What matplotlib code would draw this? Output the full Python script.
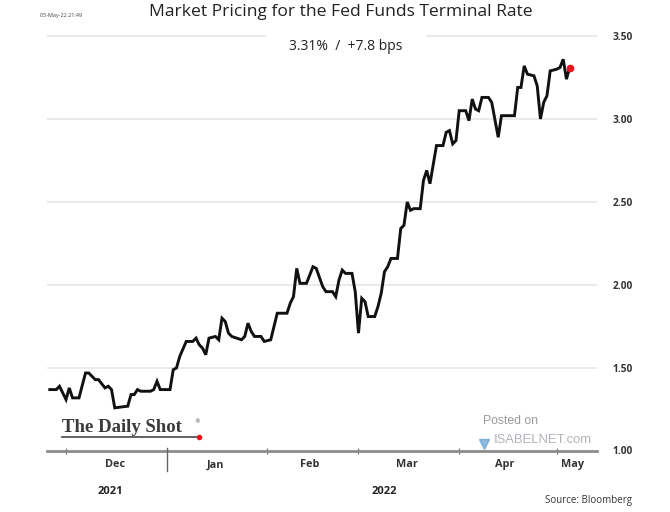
import matplotlib
matplotlib.use("Agg")
import matplotlib.pyplot as plt
import matplotlib.dates as mdates
import pandas as pd
from matplotlib.lines import Line2D

dates = ["2021-11-26","2021-11-28","2021-11-29","2021-12-01","2021-12-02","2021-12-03","2021-12-05",
         "2021-12-07","2021-12-08","2021-12-10","2021-12-11","2021-12-13","2021-12-14","2021-12-15",
         "2021-12-16","2021-12-20","2021-12-21","2021-12-22","2021-12-23","2021-12-24","2021-12-27",
         "2021-12-28","2021-12-29","2021-12-30","2022-01-02","2022-01-03","2022-01-04","2022-01-05",
         "2022-01-07","2022-01-09","2022-01-10","2022-01-11","2022-01-12","2022-01-13","2022-01-14",
         "2022-01-16","2022-01-17","2022-01-18","2022-01-19","2022-01-20","2022-01-21","2022-01-24",
         "2022-01-25","2022-01-26","2022-01-27","2022-01-28","2022-01-30","2022-01-31","2022-02-02",
         "2022-02-04","2022-02-07","2022-02-08","2022-02-09","2022-02-10","2022-02-11","2022-02-13",
         "2022-02-15","2022-02-16","2022-02-18","2022-02-19","2022-02-21","2022-02-22","2022-02-23",
         "2022-02-24","2022-02-25","2022-02-27","2022-02-28","2022-03-01","2022-03-02","2022-03-03",
         "2022-03-04","2022-03-06","2022-03-07","2022-03-08","2022-03-09","2022-03-10","2022-03-11",
         "2022-03-13","2022-03-14","2022-03-15","2022-03-16","2022-03-17","2022-03-18","2022-03-20",
         "2022-03-21","2022-03-22","2022-03-23","2022-03-25","2022-03-27","2022-03-28","2022-03-29",
         "2022-03-30","2022-03-31","2022-04-01","2022-04-03","2022-04-04","2022-04-05","2022-04-06",
         "2022-04-07","2022-04-08","2022-04-10","2022-04-11","2022-04-13","2022-04-14","2022-04-18",
         "2022-04-19","2022-04-20","2022-04-21","2022-04-22","2022-04-24","2022-04-25","2022-04-26",
         "2022-04-27","2022-04-28","2022-04-29","2022-05-01","2022-05-02","2022-05-03","2022-05-04",
         "2022-05-05"]
rates = [1.37, 1.37, 1.39, 1.31, 1.38, 1.32, 1.32,
         1.47, 1.47, 1.43, 1.43, 1.38, 1.39, 1.37,
         1.26, 1.27, 1.34, 1.34, 1.37, 1.36, 1.36,
         1.37, 1.42, 1.37, 1.37, 1.49, 1.50, 1.57,
         1.66, 1.66, 1.68, 1.64, 1.62, 1.58, 1.68,
         1.69, 1.67, 1.80, 1.78, 1.71, 1.69, 1.67,
         1.69, 1.77, 1.72, 1.69, 1.69, 1.66, 1.67,
         1.83, 1.83, 1.89, 1.93, 2.10, 2.01, 2.01,
         2.11, 2.10, 1.99, 1.96, 1.96, 1.93, 2.03,
         2.09, 2.07, 2.07, 1.96, 1.71, 1.92, 1.90,
         1.81, 1.81, 1.87, 1.95, 2.08, 2.11, 2.16,
         2.16, 2.34, 2.36, 2.50, 2.45, 2.46, 2.46,
         2.63, 2.69, 2.61, 2.84, 2.84, 2.92, 2.93,
         2.85, 2.87, 3.05, 3.05, 2.99, 3.12, 3.06,
         3.05, 3.13, 3.13, 3.10, 2.89, 3.02, 3.02,
         3.19, 3.19, 3.32, 3.27, 3.26, 3.20, 3.00,
         3.10, 3.14, 3.29, 3.30, 3.31, 3.36, 3.24,
         3.31]

month_starts = ["2021-12-01", "2022-02-01", "2022-03-01", "2022-04-01", "2022-05-01"]
year_break = "2022-01-01"
month_label_dates = ["2021-12-16", "2022-01-16", "2022-02-14", "2022-03-16", "2022-04-15", "2022-05-06"]
month_labels = ["Dec", "Jan", "Feb", "Mar", "Apr", "May"]
y_ticks = [1.50, 2.00, 2.50, 3.00, 3.50]
y_tick_labels = ["1.50", "2.00", "2.50", "3.00", "3.50"]

x = pd.to_datetime(dates)
W, H = 670, 512
fig = plt.figure(figsize=(W / 100, H / 100), dpi=100)
fig.patch.set_facecolor("white")

ax_left, ax_right = 47, 597
ax_bottom, ax_top = 451, 28
ax = fig.add_axes([ax_left / W, 1 - ax_bottom / H, (ax_right - ax_left) / W, (ax_bottom - ax_top) / H])
ax.set_facecolor("white")
for s in ax.spines.values():
    s.set_visible(False)

d0 = mdates.date2num(pd.Timestamp("2021-12-01"))
ax.set_xlim(d0 - 5.85, d0 + 163.4)
ax.set_ylim(1.0, 1.0 + (ax_bottom - ax_top) / 166.0)

# grid lines
for yv in y_ticks:
    ax.axhline(yv, color="#e6e6e6", lw=1.2, zorder=1)
ax.axhline(1.0, color="#8c8c8c", lw=2.0, zorder=2, clip_on=False)

ax.plot(x, rates, color="#111111", lw=2.1, solid_joinstyle="miter", zorder=3)
ax.plot([x[-1]], [rates[-1]], "o", color="#e8141c", ms=4.5, zorder=4)

# y ticks on right
ax.yaxis.tick_right()
ax.set_yticks(y_ticks)
ax.set_yticklabels(y_tick_labels)
ax.tick_params(axis="y", length=0, pad=11, labelsize=7.3, labelcolor="#333333")
for t in ax.get_yticklabels():
    t.set_fontweight("bold")
    t.set_fontfamily("Open Sans")
fig.text(612 / W, 1 - 451 / H, "1.00", fontsize=7.3, fontweight="bold", color="#333333",
         family="Open Sans", va="center", ha="left")

# x ticks
ax.set_xticks(pd.to_datetime(month_starts))
ax.set_xticklabels([])
ax.tick_params(axis="x", which="major", direction="inout", length=5, width=0.9, color="#777777")
ax.set_xticks(pd.to_datetime(month_label_dates), minor=True)
ax.set_xticklabels(month_labels, minor=True)
ax.tick_params(axis="x", which="minor", length=0, pad=6, labelsize=7.8, labelcolor="#333333")
for t in ax.get_xticklabels(minor=True):
    t.set_fontweight("bold")
    t.set_fontfamily("Open Sans")
yb = mdates.date2num(pd.Timestamp(year_break))
ax.add_line(Line2D([yb, yb], [1.02, 1.0 - 20 / 166.0], color="#666666", lw=1.0, clip_on=False))

# titles
fig.text(341 / W, 1 - 12 / H, "Market Pricing for the Fed Funds Terminal Rate", fontsize=12.6,
         family="Open Sans", color="#222222", ha="center", va="center")
fig.text(40 / W, 1 - 15 / H, "05-May-22 21:49", fontsize=4, family="Open Sans",
         color="#444444", ha="left", va="center")
fig.text(346 / W, 1 - 47 / H, "3.31%  /  +7.8 bps", fontsize=10, family="Open Sans",
         color="#222222", ha="center", va="center",
         bbox=dict(boxstyle="square,pad=1.7", fc="white", ec="none"))

# year labels
fig.text(110 / W, 1 - 492 / H, "2021", fontsize=8, fontweight="bold", family="Open Sans",
         color="#222222", ha="center", va="center")
fig.text(384 / W, 1 - 492 / H, "2022", fontsize=8, fontweight="bold", family="Open Sans",
         color="#222222", ha="center", va="center")
fig.text(632 / W, 1 - 501 / H, "Source: Bloomberg", fontsize=7, family="Open Sans",
         color="#333333", ha="right", va="center")

# The Daily Shot logo
fig.text(62 / W, 1 - 428 / H, "The Daily Shot", fontsize=13.5, family="Liberation Serif",
         fontweight="bold", color="#3a3a3a", ha="left", va="center")
fig.text(194 / W, 1 - 422 / H, "®", fontsize=4, family="DejaVu Sans", color="#333333",
         ha="left", va="center")
fig.add_artist(Line2D([62 / W, 197 / W], [1 - 437 / H, 1 - 437 / H], color="#555555", lw=1.3))
fig.add_artist(Line2D([199 / W], [1 - 437 / H], marker="o", color="#e8141c", ms=3, lw=0))

# IsabelNet watermark
fig.text(483 / W, 1 - 421 / H, "Posted on", fontsize=8.8, family="Liberation Sans",
         color="#9a9a9a", ha="left", va="center")
fig.text(494 / W, 1 - 440 / H, "ISABELNET.com", fontsize=9.4, family="Liberation Sans",
         color="#b0b4ba", ha="left", va="center")
fig.add_artist(Line2D([484 / W], [1 - 444 / H], marker="v", color="#6fa8d6", ms=7, lw=0, alpha=0.8))

fig.savefig("out.png", dpi=100, facecolor="white")
